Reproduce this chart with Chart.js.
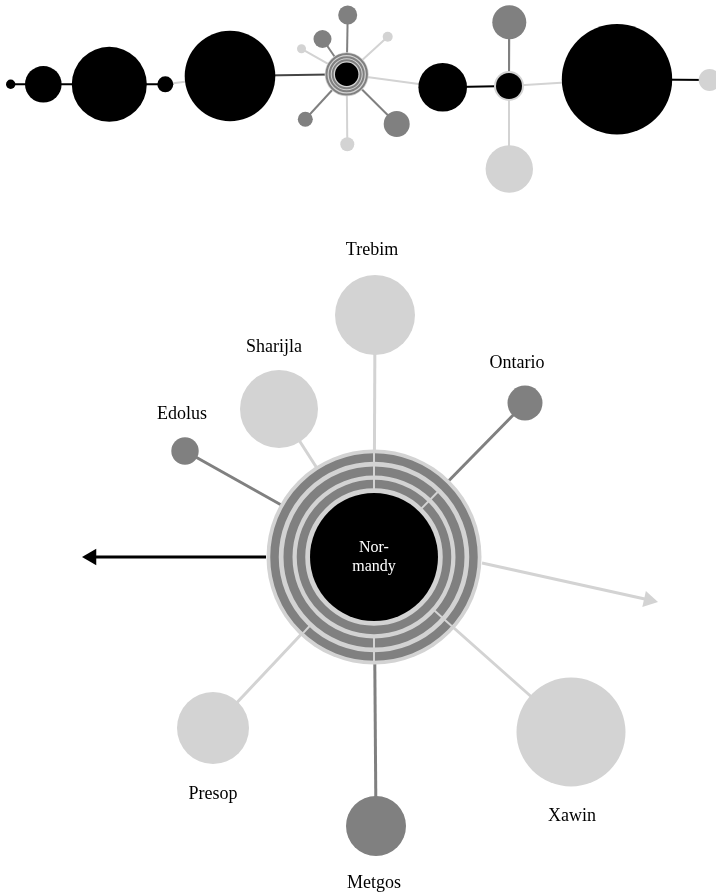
<!DOCTYPE html>
<html>
<head>
<meta charset="utf-8">
<script src="https://cdn.jsdelivr.net/npm/chart.js@4"></script>
<style>
html,body{margin:0;padding:0;background:#fff;}
canvas{display:block;}
</style>
</head>
<body>
<canvas id="c" width="716" height="893"></canvas>
<script>
// ---------- DATA ----------
// main figure: hub
const hubName = ['Nor-', 'mandy'];
const hubX = 374, hubY = 557;
const hubDiskR = 107.5, hubCoreR = 64;
const ringR = [99.5, 86, 73];
const ringW = [8.5, 9, 8.5];
// separators in the rings: angle (deg), inner radius, outer radius
const sepAngle = [90, 45.6, -41.6, -90, -133];
const sepFrom = [64, 68, 80, 80, 94];
const sepTo = [107, 91, 105, 104, 104];

// satellites of the main hub
const satNames = ['Trebim', 'Ontario', 'Xawin', 'Metgos', 'Presop', 'Edolus', 'Sharijla'];
const satX = [375, 525, 571, 376, 213, 185, 279];
const satY = [315, 403, 732, 826, 728, 451, 409];
const satR = [40, 17.5, 54.5, 30, 36, 13.7, 39];
const satTone = ['light', 'dark', 'light', 'dark', 'light', 'dark', 'light'];
const labelX = [372, 517, 572, 374, 213, 182, 274];
const labelY = [250, 363, 816, 883, 794, 414, 347];

// arrows
const arrowFromX = [266, 482], arrowFromY = [557, 563];
const arrowTipX = [82, 658], arrowTipY = [557, 602];
const arrowTone = ['black', 'light'];

// top strip: chain of nodes
const chainX = [10.7, 43.3, 109.3, 165.3, 230, 346.7, 442.7, 509, 617, 709.7];
const chainY = [84.3, 84.3, 84.3, 84.3, 76, 74.3, 87.3, 86, 79.3, 80];
const chainR = [4.7, 18.3, 37.5, 8, 45.3, 0, 24.3, 0, 55.2, 11];
const chainKind = ['black', 'black', 'black', 'black', 'black', 'hub', 'black', 'hub2', 'black', 'light'];
const chainLinkTone = ['black', 'black', 'black', 'light', 'mid', 'light', 'black', 'light', 'black'];
// small hub in the strip
const miniDiskR = 22, miniCoreR = 11.7;
const miniRingR = [20.2, 17, 14];
const miniSatX = [347.7, 322.5, 301.5, 387.7, 396.7, 305.3, 347.3];
const miniSatY = [15, 39, 48.8, 36.7, 124, 119.3, 144.3];
const miniSatR = [9.5, 9, 4.5, 5, 13, 7.5, 7];
const miniSatTone = ['dark', 'dark', 'light', 'light', 'dark', 'dark', 'light'];
// second hub in the strip
const hub2DiskR = 15, hub2CoreR = 13;
const hub2SatX = [509.3, 509.3];
const hub2SatY = [22.3, 169];
const hub2SatR = [17, 23.7];
const hub2SatTone = ['dark', 'light'];

// ---------- STYLE ----------
const COL = {light: '#d3d3d3', dark: '#808080', black: '#000000', mid: '#454545'};
const FONT = '"Liberation Serif", "Times New Roman", serif';

// ---------- BUILD DATASETS ----------
const ds = [];
function line(x1, y1, x2, y2, color, width, order) {
  ds.push({type: 'line', data: [{x: x1, y: y1}, {x: x2, y: y2}], borderColor: color,
    borderWidth: width, pointRadius: 0, fill: false, clip: false, order: order, tension: 0});
}
function bubble(points, fill, stroke, bw, order) {
  ds.push({type: 'bubble', data: points, backgroundColor: fill, borderColor: stroke,
    borderWidth: bw, clip: false, order: order, hoverRadius: 0, hoverBorderWidth: bw});
}

// main spokes (under the hub disk)
satX.forEach((x, i) => line(x, satY[i], hubX, hubY, COL[satTone[i]], 3, 60));
// arrows
arrowTipX.forEach((tx, i) => {
  const dx = tx - arrowFromX[i], dy = arrowTipY[i] - arrowFromY[i];
  const L = Math.hypot(dx, dy), ux = dx / L, uy = dy / L;
  line(arrowFromX[i], arrowFromY[i], tx - ux * 10, arrowTipY[i] - uy * 10, COL[arrowTone[i]], 3, 60);
  ds.push({type: 'line', showLine: false, data: [{x: tx - ux * 9.5, y: arrowTipY[i] - uy * 9.5}],
    pointStyle: 'triangle', pointRadius: 9.5, pointRotation: Math.atan2(ux, -uy) * 180 / Math.PI,
    pointBackgroundColor: COL[arrowTone[i]], pointBorderWidth: 0, pointBorderColor: COL[arrowTone[i]],
    clip: false, order: 5});
});
// hub disk, rings, core
bubble([{x: hubX, y: hubY, r: hubDiskR}], COL.light, COL.light, 0, 40);
ringR.forEach((r, i) => bubble([{x: hubX, y: hubY, r: r}], 'rgba(0,0,0,0)', COL.dark, ringW[i], 35));
bubble([{x: hubX, y: hubY, r: hubCoreR}], COL.black, COL.black, 0, 30);
// separators
sepAngle.forEach((a, i) => {
  const rad = a * Math.PI / 180, c = Math.cos(rad), s = Math.sin(rad);
  line(hubX + c * sepFrom[i], hubY - s * sepFrom[i], hubX + c * sepTo[i], hubY - s * sepTo[i], COL.light, 2, 25);
});
// satellites
satX.forEach((x, i) => bubble([{x: x, y: satY[i], r: satR[i]}], COL[satTone[i]], COL[satTone[i]], 0, 10));

// ---- top strip ----
for (let i = 0; i < chainX.length - 1; i++) {
  line(chainX[i], chainY[i], chainX[i + 1], chainY[i + 1], COL[chainLinkTone[i]], 2, 60);
}
chainX.forEach((x, i) => {
  const k = chainKind[i];
  if (k === 'hub') {
    miniSatX.forEach((sx, j) => line(sx, miniSatY[j], x, chainY[i], COL[miniSatTone[j]], 2, 60));
    bubble([{x: x, y: chainY[i], r: miniDiskR}], COL.light, COL.light, 0, 40);
    miniRingR.forEach(r => bubble([{x: x, y: chainY[i], r: r}], 'rgba(0,0,0,0)', COL.dark, 2, 35));
    bubble([{x: x, y: chainY[i], r: miniCoreR}], COL.black, COL.black, 0, 30);
    miniSatX.forEach((sx, j) => bubble([{x: sx, y: miniSatY[j], r: miniSatR[j]}], COL[miniSatTone[j]], COL[miniSatTone[j]], 0, 10));
  } else if (k === 'hub2') {
    hub2SatX.forEach((sx, j) => line(sx, hub2SatY[j], x, chainY[i], COL[hub2SatTone[j]], 2, 60));
    bubble([{x: x, y: chainY[i], r: hub2DiskR}], COL.light, COL.light, 0, 40);
    bubble([{x: x, y: chainY[i], r: hub2CoreR}], COL.black, COL.black, 0, 30);
    hub2SatX.forEach((sx, j) => bubble([{x: sx, y: hub2SatY[j], r: hub2SatR[j]}], COL[hub2SatTone[j]], COL[hub2SatTone[j]], 0, 10));
  } else {
    bubble([{x: x, y: chainY[i], r: chainR[i]}], COL[k], COL[k], 0, 10);
  }
});

// ---------- LABEL PLUGIN ----------
const labelPlugin = {
  id: 'labels',
  afterDraw(chart) {
    const {ctx, scales} = chart;
    const xs = scales.x, ys = scales.y;
    ctx.save();
    ctx.textAlign = 'center';
    ctx.textBaseline = 'middle';
    ctx.fillStyle = '#000';
    ctx.font = '18px ' + FONT;
    satNames.forEach((n, i) => ctx.fillText(n, xs.getPixelForValue(labelX[i]), ys.getPixelForValue(labelY[i])));
    ctx.fillStyle = '#fff';
    ctx.font = '16px ' + FONT;
    ctx.fillText(hubName[0], xs.getPixelForValue(hubX), ys.getPixelForValue(hubY - 9));
    ctx.fillText(hubName[1], xs.getPixelForValue(hubX), ys.getPixelForValue(hubY + 10));
    ctx.restore();
  }
};

new Chart(document.getElementById('c'), {
  type: 'bubble',
  data: {datasets: ds},
  options: {
    responsive: false,
    animation: false,
    events: [],
    devicePixelRatio: 1,
    layout: {padding: 0, autoPadding: false},
    plugins: {legend: {display: false}, tooltip: {enabled: false}, title: {display: false}},
    scales: {
      x: {type: 'linear', min: 0, max: 716, display: false},
      y: {type: 'linear', min: 0, max: 893, reverse: true, display: false}
    }
  },
  plugins: [labelPlugin]
});
</script>
</body>
</html>
